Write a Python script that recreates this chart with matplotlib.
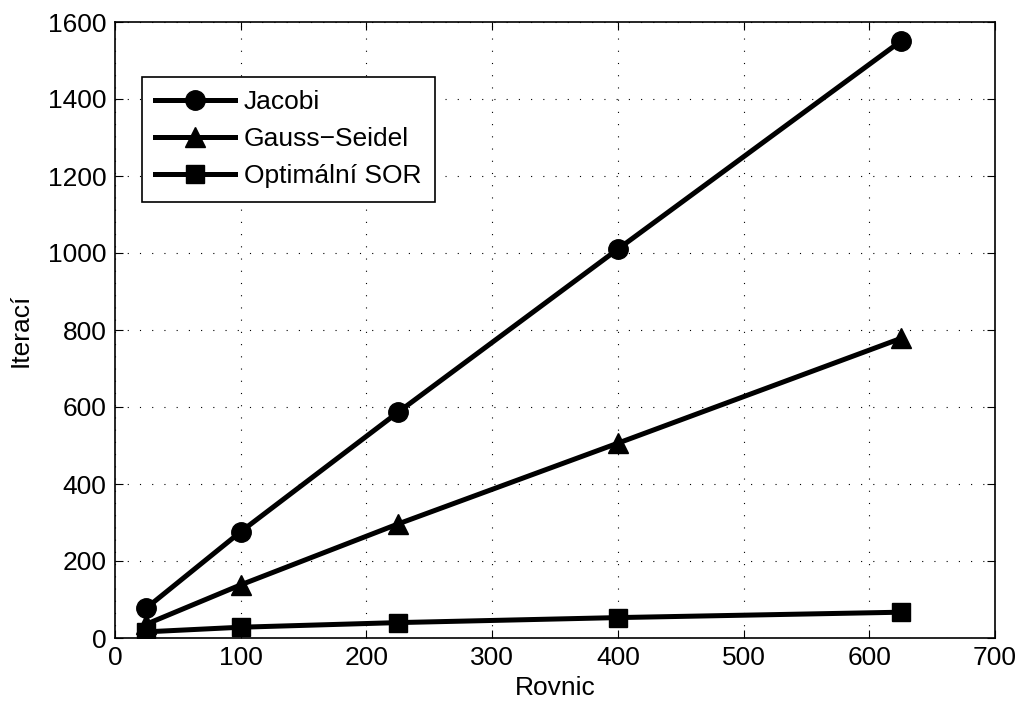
import numpy as np
import matplotlib
matplotlib.use('Agg')
import matplotlib.pyplot as plt

plt.rcParams['font.family'] = ['Liberation Sans', 'DejaVu Sans']

rovnic = [25, 100, 225, 400, 625]
jacobi = [78, 276, 586, 1010, 1550]
gauss_seidel = [36, 138, 296, 506, 778]
sor = [16, 28, 40, 53, 67]

fig = plt.figure(figsize=(10.18, 7.04), dpi=100)
# axes box in pixels: x 115..995, y 22..638
ax = fig.add_axes([115 / 1018, (704 - 638) / 704, 880 / 1018, 616 / 704])

ax.plot(rovnic, jacobi, '-o', color='black', lw=3.6, ms=14, label='Jacobi')
ax.plot(rovnic, gauss_seidel, '-^', color='black', lw=3.6, ms=15, label='Gauss\u2212Seidel')
ax.plot(rovnic, sor, '-s', color='black', lw=3.6, ms=13, label='Optimální SOR')

ax.set_xlim(0, 700)
ax.set_ylim(0, 1600)
ax.set_xticks(np.arange(0, 701, 100))
ax.set_yticks(np.arange(0, 1601, 200))
ax.grid(True, linestyle=(0, (1, 10)), color='black', lw=0.8)
ax.tick_params(direction='in', top=True, right=True, labelsize=19, length=6, pad=6)
for s in ax.spines.values():
    s.set_linewidth(1.2)
ax.set_xlabel('Rovnic', fontsize=19, labelpad=4)
ax.set_ylabel('Iterací', fontsize=19, labelpad=11)

leg = ax.legend(loc='upper left', bbox_to_anchor=(0.031, 0.911), fontsize=19,
                fancybox=False, edgecolor='black', framealpha=1, handlelength=3.0,
                borderpad=0.5, labelspacing=0.5, handletextpad=0.35, borderaxespad=0)
leg.get_frame().set_linewidth(1.2)

fig.savefig('out.png', dpi=100)
